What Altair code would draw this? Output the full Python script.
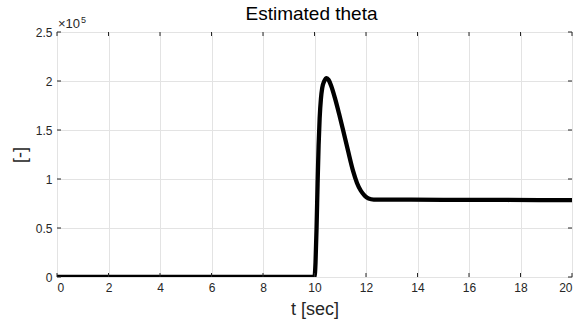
import altair as alt
import pandas as pd

# Curve (theta in raw units)
t_values = [0.0, 5.0, 10.0, 10.04, 10.08, 10.12, 10.16, 10.2, 10.25, 10.3, 10.38,
            10.47, 10.55, 10.65, 10.8, 10.95, 11.1, 11.3, 11.5, 11.65, 11.8,
            11.95, 12.1, 12.3, 13.0, 15.0, 17.5, 20.0]
theta_values = [0, 0, 0, 15000, 50000, 95000, 135000, 162000, 182000, 193000, 200000,
                203000, 201000, 195000, 182000, 167000, 151000, 129000, 108000, 96000, 88000,
                83000, 80000, 79000, 79000, 78800, 78600, 78500]

x_ticks = [0, 2, 4, 6, 8, 10, 12, 14, 16, 18, 20]
y_ticks = [0, 50000, 100000, 150000, 200000, 250000]

title_text = "Estimated theta"
x_title = "t [sec]"
y_title = "[-]"
exp_base = "×10"
exp_power = "5"

W, H = 515, 245
INK = "#262626"
FONT = "Liberation Sans"

df = pd.DataFrame({"t": t_values, "theta": theta_values})
xt = pd.DataFrame({"t": x_ticks})
yt = pd.DataFrame({"theta": y_ticks})

xscale = alt.Scale(domain=[0, 20], nice=False, zero=False)
yscale = alt.Scale(domain=[0, 250000], nice=False)

common = dict(grid=True, ticks=False, domain=False,
              labelFont=FONT, labelFontSize=12, labelColor=INK,
              titleFont=FONT, titleFontSize=18, titleColor=INK, titleFontWeight="normal",
              gridColor="#e3e3e3", gridWidth=1, gridOpacity=1)

xaxis = alt.Axis(values=x_ticks, title=x_title, labelPadding=5, titlePadding=7,
                 format="d", **common)
yaxis = alt.Axis(values=y_ticks, title=y_title, labelPadding=5, titlePadding=6,
                 labelExpr="datum.value / 100000", **common)

X = alt.X("t:Q", scale=xscale, axis=xaxis)
Y = alt.Y("theta:Q", scale=yscale, axis=yaxis)

line = alt.Chart(df).mark_line(color="black", strokeWidth=4.3, interpolate="monotone", clip=True).encode(
    x=X, y=Y)

tick_bottom = alt.Chart(xt).mark_rule(color=INK, strokeWidth=1).encode(
    x=X, y=alt.value(H), y2=alt.value(H - 4))
tick_top = alt.Chart(xt).mark_rule(color=INK, strokeWidth=1).encode(
    x=X, y=alt.value(0), y2=alt.value(4))
tick_left = alt.Chart(yt).mark_rule(color=INK, strokeWidth=1).encode(
    y=Y, x=alt.value(0), x2=alt.value(4))
tick_right = alt.Chart(yt).mark_rule(color=INK, strokeWidth=1).encode(
    y=Y, x=alt.value(W), x2=alt.value(W - 4))

exp1 = alt.Chart(pd.DataFrame({"s": [exp_base]})).mark_text(
    align="left", baseline="alphabetic", fontSize=13, color=INK, font=FONT).encode(
    text="s:N", x=alt.value(1), y=alt.value(-4))
exp2 = alt.Chart(pd.DataFrame({"s": [exp_power]})).mark_text(
    align="left", baseline="alphabetic", fontSize=9, color=INK, font=FONT).encode(
    text="s:N", x=alt.value(24), y=alt.value(-9))

title = alt.Chart(pd.DataFrame({"s": [title_text]})).mark_text(
    align="center", baseline="alphabetic", fontSize=19, color="black", font=FONT).encode(
    text="s:N", x=alt.value(W / 2 - 3), y=alt.value(-12))

chart = alt.layer(line, tick_bottom, tick_top, tick_left, tick_right, exp1, exp2, title).properties(
    width=W, height=H,
    autosize=alt.AutoSizeParams(type="none"),
    padding={"left": 57, "top": 32, "right": 13, "bottom": 47},
).configure_view(
    stroke=INK, strokeWidth=1.2
).configure(background="white")

chart.save("out.html", embed_options={"renderer": "svg", "actions": False})
